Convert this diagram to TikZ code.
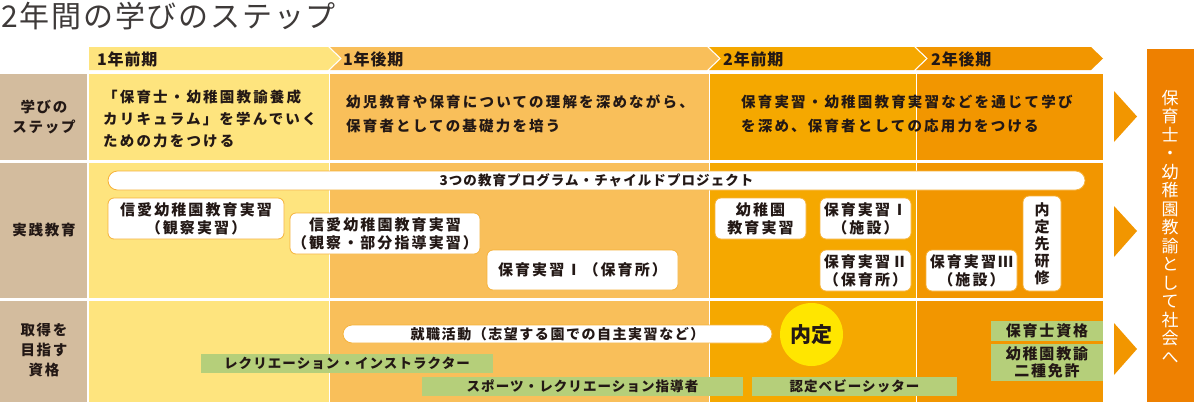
\documentclass[tikz,border=0pt]{standalone}
\usepackage{fontspec}
\setmainfont{Noto Sans CJK JP}
\definecolor{txt}{HTML}{231815}
\definecolor{ttl}{HTML}{3E3A39}
\definecolor{tan}{HTML}{D3BC9E}
\definecolor{cA}{HTML}{FEE47E}
\definecolor{cB}{HTML}{F9BF5A}
\definecolor{cC}{HTML}{F5A800}
\definecolor{cD}{HTML}{F29600}
\definecolor{fin}{HTML}{EE8000}
\definecolor{grn}{HTML}{B5CF7A}
\definecolor{bord}{HTML}{F6B23A}
\definecolor{circ}{HTML}{FFE600}
\newcommand\fsz[3]{\fontsize{#1}{#2}\selectfont\addfontfeatures{LetterSpace=#3}}
\begin{document}
\begin{tikzpicture}[x=1pt,y=-1pt,
  every node/.style={inner sep=0pt, text=txt},
  wbox/.style={draw=bord, line width=0.8pt, fill=white, rounded corners=6pt, align=center, font=\bfseries\fsz{15}{18}{14}},
  gbar/.style={fill=grn, align=center, font=\bfseries\fsz{13.5}{16}{8}},
  rowlbl/.style={align=center, font=\bfseries\fsz{14.5}{20}{12}},
  hdr/.style={anchor=west, font=\bfseries\fsz{16}{16}{5}},
  body/.style={anchor=west, align=left, font=\bfseries\fsz{14.5}{22}{15}},
  tri/.style={fill=cD}]
\useasboundingbox (0,0) rectangle (1194,402);
% title
\node[anchor=west, text=ttl, font=\fsz{30}{32}{6}] (title) at (1,16) {2年間の学びのステップ};
% header bands
\fill[cA] (89,47) -- (328,47) -- (340,58.5) -- (328,70) -- (89,70) -- cycle;
\fill[cB] (330,47) -- (707,47) -- (719,58.5) -- (707,70) -- (330,70) -- (342,58.5) -- cycle;
\fill[cC] (709,47) -- (914,47) -- (926,58.5) -- (914,70) -- (709,70) -- (721,58.5) -- cycle;
\fill[cD] (916,47) -- (1091,47) -- (1103,58.5) -- (1091,70) -- (916,70) -- (928,58.5) -- cycle;
\node[hdr] (h1) at (97,59) {1年前期};
\node[hdr] (h2) at (343,59) {1年後期};
\node[hdr] (h3) at (723,59) {2年前期};
\node[hdr] (h4) at (931,59) {2年後期};
% cells
\foreach \ya/\yb in {74/160, 162.5/297.5, 300.5/402}{
  \fill[tan] (0,\ya) rectangle (87,\yb);
  \fill[cA] (89,\ya) rectangle (328.5,\yb);
  \fill[cB] (330,\ya) rectangle (708.5,\yb);
  \fill[cC] (710,\ya) rectangle (915.5,\yb);
  \fill[cD] (917,\ya) rectangle (1103,\yb);
}
% final box and triangles
\fill[fin] (1147,49) rectangle (1194,402);
\fill[tri] (1114,91) -- (1137,116.5) -- (1114,142) -- cycle;
\fill[tri] (1114,206) -- (1137,231) -- (1114,257) -- cycle;
\fill[tri] (1114,323) -- (1137,349) -- (1114,375) -- cycle;
\node[align=center, text=white, font=\fsz{17}{18.5}{0}] (goal) at (1170,226.5)
  {保\\育\\士\\・\\幼\\稚\\園\\教\\諭\\と\\し\\て\\社\\会\\へ};
% row labels
\node[rowlbl] (l1) at (44,117) {学びの\\ステップ};
\node[rowlbl] (l2) at (44,230) {実践教育};
\node[rowlbl] (l3) at (44,350) {取得を\\目指す\\資格};
% row 1 texts
\node[body] (t1) at (103,119) {「保育士・幼稚園教諭養成\\カリキュラム」を学んでいく\\ための力をつける};
\node[body, font=\bfseries\fsz{14.5}{24}{15}] (t2) at (346,114) {幼児教育や保育についての理解を深めながら、\\保育者としての基礎力を培う};
\node[body, font=\bfseries\fsz{14.5}{24}{15}] (t3) at (741,114) {保育実習・幼稚園教育実習などを通じて学び\\を深め、保育者としての応用力をつける};
% row 2 boxes
\node[wbox, rounded corners=9.5pt, minimum width=977, minimum height=19, font=\bfseries\fsz{13.5}{16}{8}] (prog) at (596.5,180.5) {3つの教育プログラム・チャイルドプロジェクト};
\node[wbox, minimum width=176, minimum height=41] (b1) at (196,218.5) {信愛幼稚園教育実習\\（観察実習）};
\node[wbox, minimum width=190, minimum height=41] (b2) at (385,233.5) {信愛幼稚園教育実習\\（観察・部分指導実習）};
\node[wbox, minimum width=191, minimum height=40] (b3) at (582.5,270) {保育実習Ⅰ（保育所）};
\node[wbox, minimum width=91, minimum height=41] (b4) at (760.5,218.5) {幼稚園\\教育実習};
\node[wbox, minimum width=91, minimum height=41] (b5) at (865.5,218.5) {保育実習Ⅰ\\（施設）};
\node[wbox, minimum width=91, minimum height=41] (b6) at (865.5,270.5) {保育実習Ⅱ\\（保育所）};
\node[wbox, minimum width=91, minimum height=41] (b7) at (971.5,270.5) {保育実習Ⅲ\\（施設）};
\node[wbox, minimum width=38, minimum height=95, font=\bfseries\fsz{15}{17}{0}] (b8) at (1042,243.5) {内\\定\\先\\研\\修};
% row 3
\node[wbox, rounded corners=9pt, minimum width=429, minimum height=18, font=\bfseries\fsz{14}{16}{11}] (job) at (557.5,334) {就職活動（志望する園での自主実習など）};
\node[circle, fill=circ, minimum size=63, font=\bfseries\fsz{21}{22}{4}] (naitei) at (811.5,334.5) {内定};
\node[gbar, minimum width=292, minimum height=19] (g1) at (347,363.5) {レクリエーション・インストラクター};
\node[gbar, minimum width=321, minimum height=19] (g2) at (582.5,386.5) {スポーツ・レクリエーション指導者};
\node[gbar, minimum width=205, minimum height=19] (g3) at (854.5,386.5) {認定ベビーシッター};
\node[gbar, minimum width=112, minimum height=20, font=\bfseries\fsz{15}{16}{12}] (g4) at (1047,331) {保育士資格};
\node[gbar, minimum width=112, minimum height=37, font=\bfseries\fsz{15}{16.5}{12}] (g5) at (1047,362.5) {幼稚園教諭\\二種免許};
\end{tikzpicture}
\end{document}
